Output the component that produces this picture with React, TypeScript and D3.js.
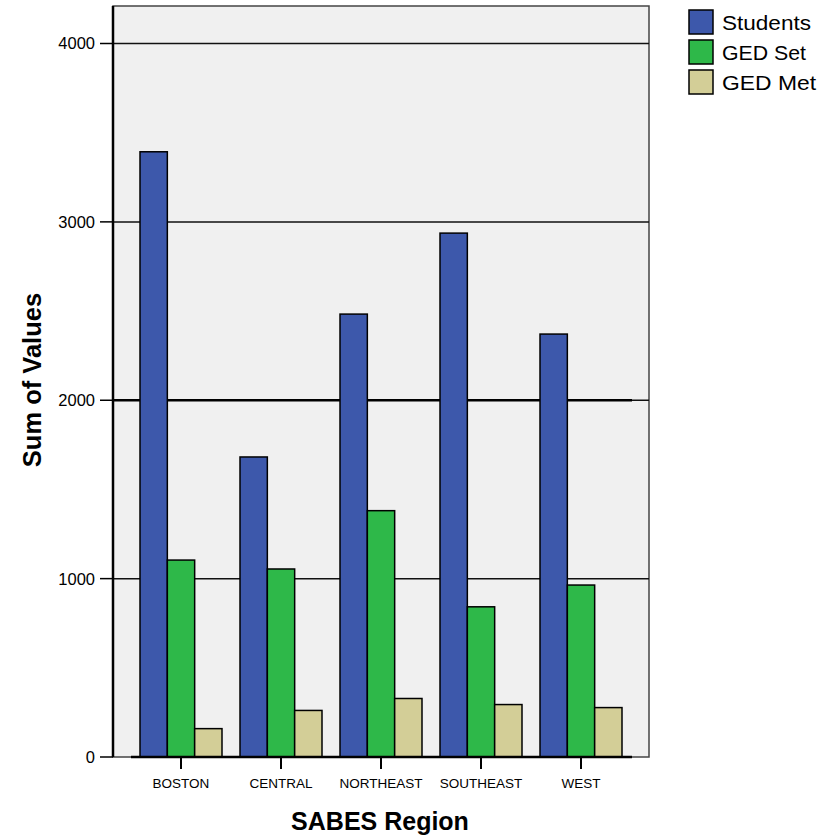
import { useEffect, useRef } from 'react';
import * as d3 from 'd3';

const regions = ["BOSTON", "CENTRAL", "NORTHEAST", "SOUTHEAST", "WEST"];
const seriesNames = ["Students", "GED Set", "GED Met"];
const students = [3393, 1682, 2483, 2937, 2371];
const gedSet = [1104, 1054, 1381, 842, 964];
const gedMet = [159, 261, 328, 294, 277];
const yTicks = [0, 1000, 2000, 3000, 4000];
const colors = ["#3d58ab", "#2eb849", "#d3ce97"];

export default function App() {
  const svgRef = useRef<SVGSVGElement>(null);

  useEffect(() => {
    if (!svgRef.current) return;
    const svg = d3.select(svgRef.current);
    svg.selectAll("*").remove();

    const font = "'Liberation Sans', Arial, sans-serif";
    const left = 113, right = 649, top = 6, bottom = 757;

    const y = d3.scaleLinear().domain([0, 4000]).range([bottom, 43.5]);
    const x0 = d3.scaleBand<string>()
      .domain(regions)
      .range([131, 631])
      .paddingInner(0.18)
      .paddingOuter(0.09);
    const x1 = d3.scaleBand<string>()
      .domain(seriesNames)
      .range([0, x0.bandwidth()]);

    const rows = regions.map((r, i) => ({
      region: r,
      values: [students[i], gedSet[i], gedMet[i]],
    }));

    // plot background + frame
    svg.append("rect")
      .attr("x", left).attr("y", top)
      .attr("width", right - left).attr("height", bottom - top)
      .attr("fill", "#f0f0f0")
      .attr("stroke", "#444")
      .attr("stroke-width", 1.5);

    // gridlines
    svg.selectAll(".grid")
      .data(yTicks.filter(t => t > 0))
      .enter()
      .append("line")
      .attr("x1", left).attr("x2", right)
      .attr("y1", d => y(d)).attr("y2", d => y(d))
      .attr("stroke", "#111")
      .attr("stroke-width", 1.5);

    // heavier line at 2000
    svg.append("line")
      .attr("x1", left).attr("x2", x0.range()[1] + 1)
      .attr("y1", y(2000)).attr("y2", y(2000))
      .attr("stroke", "#000")
      .attr("stroke-width", 2.5);

    // bars
    const groups = svg.selectAll(".group")
      .data(rows)
      .enter()
      .append("g")
      .attr("transform", d => `translate(${x0(d.region)},0)`);

    groups.selectAll("rect")
      .data(d => d.values.map((v, i) => ({ key: seriesNames[i], value: v, i })))
      .enter()
      .append("rect")
      .attr("x", d => x1(d.key)!)
      .attr("y", d => y(d.value))
      .attr("width", x1.bandwidth())
      .attr("height", d => bottom - y(d.value))
      .attr("fill", d => colors[d.i])
      .attr("stroke", "#000")
      .attr("stroke-width", 1.5);

    // baseline at 0
    svg.append("line")
      .attr("x1", x0.range()[0]).attr("x2", x0.range()[1] + 1)
      .attr("y1", bottom).attr("y2", bottom)
      .attr("stroke", "#000")
      .attr("stroke-width", 2.5);

    // y axis line
    svg.append("line")
      .attr("x1", left).attr("x2", left)
      .attr("y1", top).attr("y2", bottom)
      .attr("stroke", "#000")
      .attr("stroke-width", 2.5);

    // y ticks
    svg.selectAll(".ytick")
      .data(yTicks)
      .enter()
      .append("line")
      .attr("x1", 100).attr("x2", left)
      .attr("y1", d => y(d)).attr("y2", d => y(d))
      .attr("stroke", "#000")
      .attr("stroke-width", 1.5);

    svg.selectAll(".ylabel")
      .data(yTicks)
      .enter()
      .append("text")
      .attr("x", 95)
      .attr("y", d => y(d))
      .attr("dy", "0.36em")
      .attr("text-anchor", "end")
      .attr("font-family", font)
      .attr("font-size", "16.5px")
      .attr("fill", "#000")
      .text(d => String(d));

    // x ticks + labels
    svg.selectAll(".xtick")
      .data(regions)
      .enter()
      .append("line")
      .attr("x1", d => x0(d)! + x0.bandwidth() / 2)
      .attr("x2", d => x0(d)! + x0.bandwidth() / 2)
      .attr("y1", bottom).attr("y2", bottom + 12)
      .attr("stroke", "#000")
      .attr("stroke-width", 2);

    svg.selectAll(".xlabel")
      .data(regions)
      .enter()
      .append("text")
      .attr("x", d => x0(d)! + x0.bandwidth() / 2)
      .attr("y", 788)
      .attr("text-anchor", "middle")
      .attr("font-family", font)
      .attr("font-size", "13.5px")
      .attr("fill", "#000")
      .text(d => d);

    // axis titles
    svg.append("text")
      .attr("x", 380).attr("y", 830)
      .attr("text-anchor", "middle")
      .attr("font-family", font)
      .attr("font-size", "25px")
      .attr("font-weight", "bold")
      .text("SABES Region");

    svg.append("text")
      .attr("transform", `translate(41,380) rotate(-90)`)
      .attr("text-anchor", "middle")
      .attr("font-family", font)
      .attr("font-size", "25.5px")
      .attr("font-weight", "bold")
      .text("Sum of Values");

    // legend
    const legend = svg.selectAll(".legend")
      .data(seriesNames)
      .enter()
      .append("g")
      .attr("transform", (d, i) => `translate(689,${10 + i * 30})`);

    legend.append("rect")
      .attr("width", 24).attr("height", 24)
      .attr("fill", (d, i) => colors[i])
      .attr("stroke", "#000")
      .attr("stroke-width", 1.5);

    legend.append("text")
      .attr("x", 33).attr("y", 19.5)
      .attr("font-family", font)
      .attr("font-size", "21px")
      .attr("textLength", (d, i) => [89, 84, 94][i])
      .attr("lengthAdjust", "spacingAndGlyphs")
      .attr("fill", "#000")
      .text(d => d);
  }, []);

  return (
    <div style={{ position: "absolute", left: 0, top: 0 }}>
      <svg ref={svgRef} width={831} height={836} style={{ display: "block", background: "#fff" }}></svg>
    </div>
  );
}
